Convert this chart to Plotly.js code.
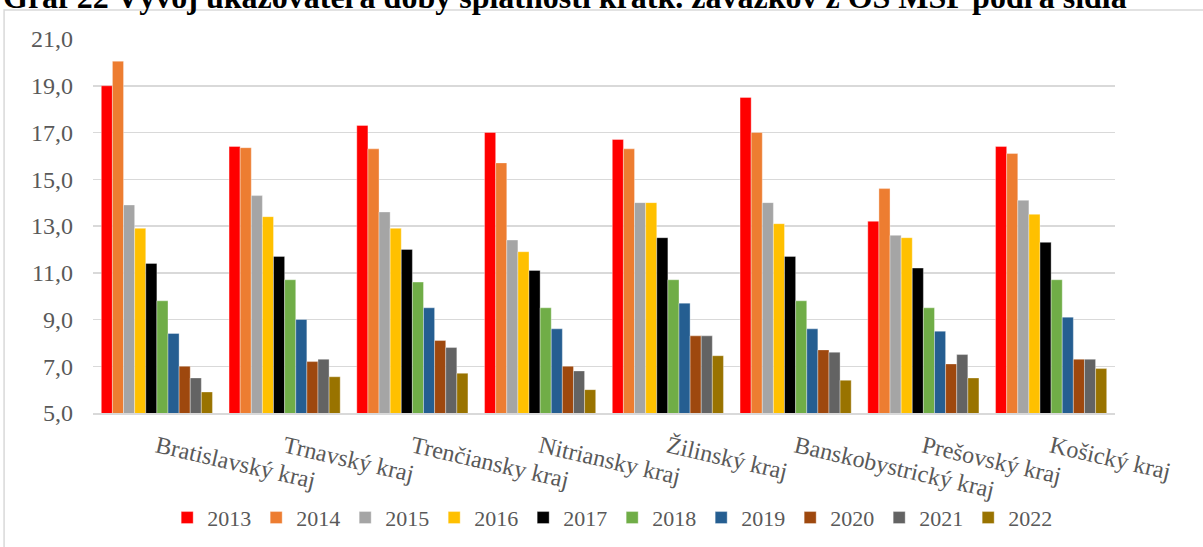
<!DOCTYPE html>
<html>
<head>
<meta charset="utf-8">
<script src="https://cdn.plot.ly/plotly-3.0.1.min.js"></script>
<style>
  html, body { margin: 0; padding: 0; background: #fff; }
  #chart { width: 1203px; height: 547px; }
</style>
</head>
<body>
<div id="chart"></div>
<script>
// kraje (kategórie na osi x)
var regions = ["Bratislavský kraj", "Trnavský kraj", "Trenčiansky kraj", "Nitriansky kraj",
               "Žilinský kraj", "Banskobystrický kraj", "Prešovský kraj", "Košický kraj"];

var years = ["2013", "2014", "2015", "2016", "2017", "2018", "2019", "2020", "2021", "2022"];

// hodnoty podla rokov, poradie ako regions
var v2013 = [19.0, 16.4, 17.3, 17.0, 16.7, 18.5, 13.2, 16.4];
var v2014 = [20.05, 16.35, 16.3, 15.7, 16.3, 17.0, 14.6, 16.1];
var v2015 = [13.9, 14.3, 13.6, 12.4, 14.0, 14.0, 12.6, 14.1];
var v2016 = [12.9, 13.4, 12.9, 11.9, 14.0, 13.1, 12.5, 13.5];
var v2017 = [11.4, 11.7, 12.0, 11.1, 12.5, 11.7, 11.2, 12.3];
var v2018 = [9.8, 10.7, 10.6, 9.5, 10.7, 9.8, 9.5, 10.7];
var v2019 = [8.4, 9.0, 9.5, 8.6, 9.7, 8.6, 8.5, 9.1];
var v2020 = [7.0, 7.2, 8.1, 7.0, 8.3, 7.7, 7.1, 7.3];
var v2021 = [6.5, 7.3, 7.8, 6.8, 8.3, 7.6, 7.5, 7.3];
var v2022 = [5.9, 6.55, 6.7, 6.0, 7.45, 6.4, 6.5, 6.9];

var colors = ["#FF0000", "#ED7D31", "#A5A5A5", "#FFC000", "#000000",
              "#70AD47", "#255E91", "#9E480E", "#636363", "#997300"];

var values = [v2013, v2014, v2015, v2016, v2017, v2018, v2019, v2020, v2021, v2022];

var font = '"Liberation Serif", "Times New Roman", serif';

var data = [];
for (var i = 0; i < years.length; i++) {
  data.push({
    type: 'bar',
    name: years[i],
    x: regions,
    y: values[i],
    marker: { color: colors[i], line: { color: 'rgba(255,255,255,0.7)', width: 0.5 } },
    hoverinfo: 'x+y+name'
  });
}

// plocha grafu: x 93..1115, y 39..413
var layout = {
  width: 1203,
  height: 547,
  margin: { l: 93, r: 88, t: 39, b: 134, autoexpand: false },
  paper_bgcolor: '#fff',
  plot_bgcolor: '#fff',
  separators: ', ',
  barmode: 'group',
  bargap: 0.13,
  bargroupgap: 0,
  font: { family: font, size: 24, color: '#595959' },
  showlegend: true,
  legend: {
    orientation: 'h',
    x: 0.508, xanchor: 'center',
    y: -0.224, yanchor: 'top',
    bgcolor: 'rgba(0,0,0,0)',
    font: { family: font, size: 22, color: '#595959' },
    itemwidth: 30,
    entrywidth: 44,
    traceorder: 'normal'
  },
  xaxis: {
    type: 'category',
    tickangle: 13,
    showgrid: false,
    showline: true,
    linecolor: '#d9d9d9',
    linewidth: 1.5,
    ticks: '',
    tickfont: { family: font, size: 24, color: '#595959' },
    ticklabelstandoff: 9
  },
  yaxis: {
    range: [5, 21],
    tick0: 5,
    dtick: 2,
    tickformat: '.1f',
    showgrid: true,
    gridcolor: '#d9d9d9',
    gridwidth: 1.5,
    zeroline: false,
    showline: false,
    ticks: '',
    tickfont: { family: font, size: 24, color: '#595959' },
    ticklabelstandoff: 19
  },
  shapes: [{
    type: 'rect', xref: 'paper', yref: 'paper',
    x0: -0.087, x1: 1.2, y0: -0.5, y1: 1.0775,
    line: { color: '#d9d9d9', width: 1.5 }, fillcolor: 'rgba(0,0,0,0)'
  }],
  annotations: [{
    text: 'Graf 22 Vývoj ukazovateľa doby splatnosti krátk. záväzkov z OS MSP podľa sídla',
    xref: 'paper', yref: 'paper',
    x: (565 - 93) / 1022, xanchor: 'center',
    y: 1 + (39 - 17) / 374, yanchor: 'bottom',
    showarrow: false,
    font: { family: font, size: 32, color: '#000', weight: 'bold' }
  }]
};

Plotly.newPlot('chart', data, layout, { displayModeBar: false, staticPlot: true });
</script>
</body>
</html>
